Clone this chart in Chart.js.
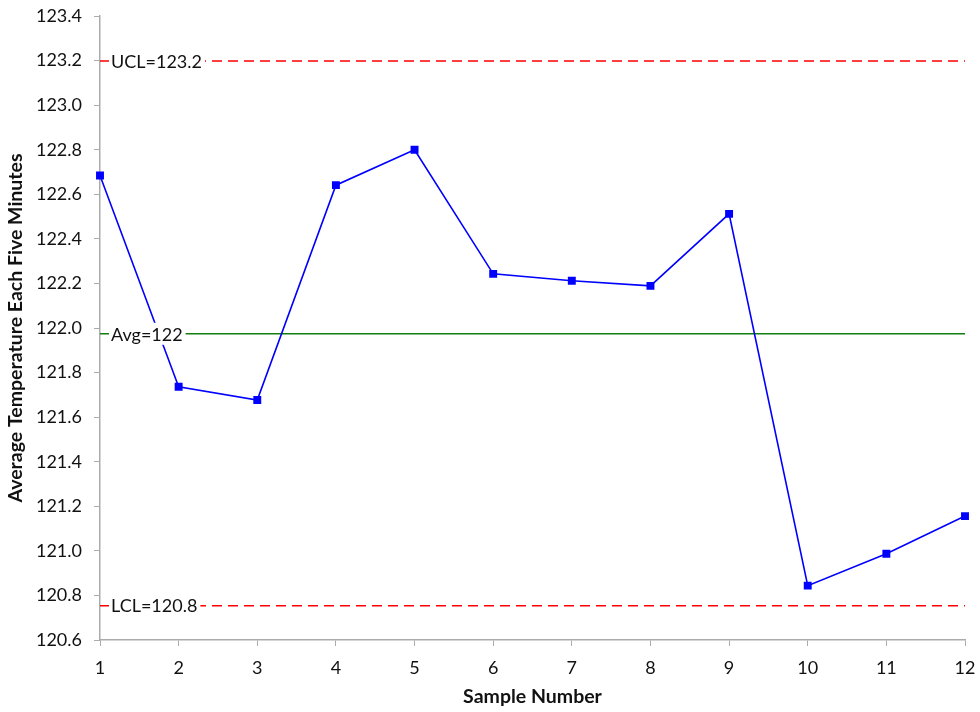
<!DOCTYPE html>
<html>
<head>
<meta charset="utf-8">
<script src="https://cdn.jsdelivr.net/npm/chart.js@4/dist/chart.umd.min.js"></script>
<style>
  html, body { margin: 0; padding: 0; background: #fff; }
  #wrap { width: 980px; height: 712px; }
</style>
</head>
<body>
<div id="wrap"><canvas id="controlChart" width="980" height="712"></canvas></div>
<script>
// Chart data
const samples = ["1", "2", "3", "4", "5", "6", "7", "8", "9", "10", "11", "12"];
const temps = [122.684, 121.736, 121.677, 122.641, 122.80, 122.243, 122.212, 122.189, 122.512, 120.844, 120.987, 121.156];
const limitValues = [123.198, 121.974, 120.754];
const limitLabels = ["UCL=123.2", "Avg=122", "LCL=120.8"];
const yTicks = [120.6, 123.4, 0.2]; // min, max, step

const FONT = "Lato, 'Liberation Sans', sans-serif";
const axisGray = "#ababab";

// draw the UCL / Avg / LCL labels on a white box near the left edge
const limitLabelPlugin = {
    id: "limitLabels",
    afterDatasetsDraw(chart) {
        const ctx = chart.ctx;
        const yScale = chart.scales.y;
        const left = chart.chartArea.left;
        ctx.save();
        ctx.font = "18px " + FONT;
        ctx.textBaseline = "middle";
        limitValues.forEach((v, i) => {
            const y = yScale.getPixelForValue(v);
            const w = ctx.measureText(limitLabels[i]).width;
            ctx.fillStyle = "#fff";
            ctx.fillRect(left + 9, y - 11, w + 5, 22);
            ctx.fillStyle = "#111";
            ctx.fillText(limitLabels[i], left + 11, y + 1);
        });
        ctx.restore();
    }
};

const ctx = document.getElementById("controlChart").getContext("2d");

function limitDataset(value, color, dash) {
    return {
        data: samples.map(() => value),
        borderColor: color,
        borderWidth: 1.5,
        borderDash: dash,
        pointRadius: 0,
        pointHoverRadius: 0,
        fill: false,
        order: 2
    };
}

new Chart(ctx, {
    type: "line",
    data: {
        labels: samples,
        datasets: [
            {
                data: temps,
                borderColor: "#0000ff",
                backgroundColor: "#0000ff",
                borderWidth: 1.6,
                pointStyle: "rect",
                pointRadius: 5.6,
                pointBorderWidth: 0,
                tension: 0,
                fill: false,
                order: 1
            },
            limitDataset(limitValues[0], "#ff0000", [10, 6]),
            limitDataset(limitValues[1], "#107f10", []),
            limitDataset(limitValues[2], "#ff0000", [10, 6])
        ]
    },
    options: {
        responsive: false,
        animation: false,
        layout: { padding: { top: 16, right: 15, bottom: 0, left: 0 } },
        plugins: {
            legend: { display: false },
            tooltip: { enabled: false }
        },
        scales: {
            x: {
                offset: false,
                grid: { display: true, drawOnChartArea: false, drawTicks: true, tickLength: 6, color: axisGray },
                border: { color: axisGray, width: 1.5 },
                ticks: { color: "#111", font: { family: FONT, size: 18 }, padding: 11, maxRotation: 0 },
                title: { display: true, text: "Sample Number", color: "#111", font: { family: FONT, size: 19.5, weight: "bold" }, padding: { top: 2, bottom: 4 } },
                afterFit: s => { s.height = 72; s.paddingLeft = 0; s.paddingRight = 0; }
            },
            y: {
                min: yTicks[0],
                max: yTicks[1],
                grid: { display: true, drawOnChartArea: false, drawTicks: true, tickLength: 6, color: axisGray },
                border: { color: axisGray, width: 1.5 },
                ticks: {
                    stepSize: yTicks[2],
                    color: "#111",
                    font: { family: FONT, size: 18 },
                    padding: 12,
                    callback: v => Number(v).toFixed(1)
                },
                title: { display: true, text: "Average Temperature Each Five Minutes", color: "#111", font: { family: FONT, size: 19.5, weight: "bold" }, padding: { top: 4, bottom: 4 } },
                afterFit: s => { s.width = 100; s.paddingTop = 0; s.paddingBottom = 0; }
            }
        }
    },
    plugins: [limitLabelPlugin]
});
</script>
</body>
</html>
